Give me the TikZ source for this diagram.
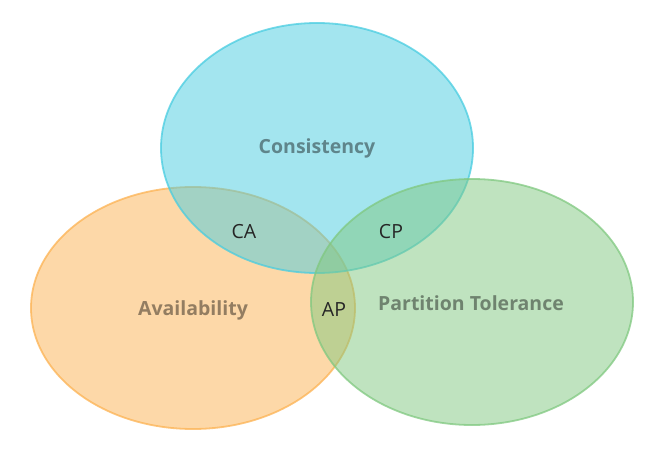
\documentclass[tikz,border=0pt]{standalone}
\usepackage{fontspec}
\setmainfont{Open Sans}
\definecolor{cyanC}{RGB}{72,204,224}
\definecolor{orangeA}{RGB}{252,178,82}
\definecolor{greenP}{RGB}{128,200,128}
\tikzset{
	setC/.style={fill=#1,fill opacity=0.5,draw=#1,draw opacity=0.75,line width=1.8pt},
	setname/.style={font=\bfseries\fontsize{19.5}{23}\selectfont,text=black,text opacity=0.42},
	pairname/.style={font=\fontsize{19.5}{23}\selectfont,text=black!85}
}
\begin{document}
\begin{tikzpicture}[x=1pt,y=-1pt]
	\useasboundingbox (0,0) rectangle (663,457);
	
	\filldraw[setC=orangeA] (193,308) ellipse [x radius=162, y radius=121];
	\filldraw[setC=cyanC] (317,148) ellipse [x radius=156, y radius=125];
	\filldraw[setC=greenP] (472,302) ellipse [x radius=161, y radius=123];
	
	\node[setname](C) at (317,148){Consistency};
	\node[setname](A) at (193,310){Availability};
	\node[setname](P) at (471,303){Partition Tolerance};
	
	\node[pairname](CA) at (244,232){CA};
	\node[pairname](CP) at (391,232){CP};
	\node[pairname](AP) at (334,310){AP};
\end{tikzpicture}
\end{document}
